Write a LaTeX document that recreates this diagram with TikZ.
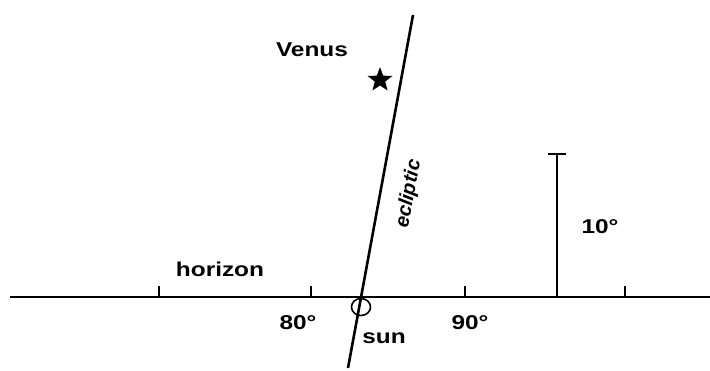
\documentclass[tikz,border=0pt]{standalone}
\usepackage{fontspec}
\setmainfont{Liberation Sans}
\newfontfamily\widefont[FakeStretch=1.22]{Liberation Sans}
\usetikzlibrary{shapes.geometric,calc}

\begin{document}
\begin{tikzpicture}[x=1pt, y=-1pt, line width=2.6pt,
  lbl/.style={font=\widefont\fontsize{20}{20}\selectfont\bfseries, inner sep=0pt},
  tick/.style={line width=2.4pt}]
\useasboundingbox (0,0) rectangle (710,370);
% horizon and ticks
\coordinate (hl) at (10,297);
\coordinate (hr) at (710,297);
\draw (hl) -- (hr);
\foreach \x/\n in {159/t1, 311/t2, 465/t3, 625/t4}{
  \coordinate (\n) at (\x,297);
  \draw[tick] (\n) -- ++(0,-11);
}
% ecliptic
\coordinate (ebot) at (348,368);
\coordinate (etop) at (413,15);
\draw (ebot) -- (etop);
\node[draw, ellipse, line width=1.6pt, minimum width=19pt, minimum height=17pt, inner sep=0pt] (sun) at (361,307) {};
\node[star, star points=5, star point ratio=2.4, fill=black, draw=none, minimum size=26pt, inner sep=0pt] (venus) at (380,80) {};
% 10 degree bar
\coordinate (bbot) at (557,297);
\coordinate (btop) at (557,154);
\draw[tick] (bbot) -- (btop);
\draw[tick] ($(btop)+(-9,0)$) -- ($(btop)+(9,0)$);
% labels
\node[lbl] (lvenus) at (312,50) {Venus};
\node[lbl] (lhor) at (220,269) {horizon};
\node[lbl] (l80) at (298,323) {80°};
\node[lbl] (l90) at (470,323) {90°};
\node[lbl] (lsun) at (384,338) {sun};
\node[lbl] (lten) at (600,227) {10°};
\node[lbl, font=\fontsize{20}{20}\selectfont\bfseries\itshape, rotate=79.6] (lecl) at (409,194) {ecliptic};
\end{tikzpicture}
\end{document}
